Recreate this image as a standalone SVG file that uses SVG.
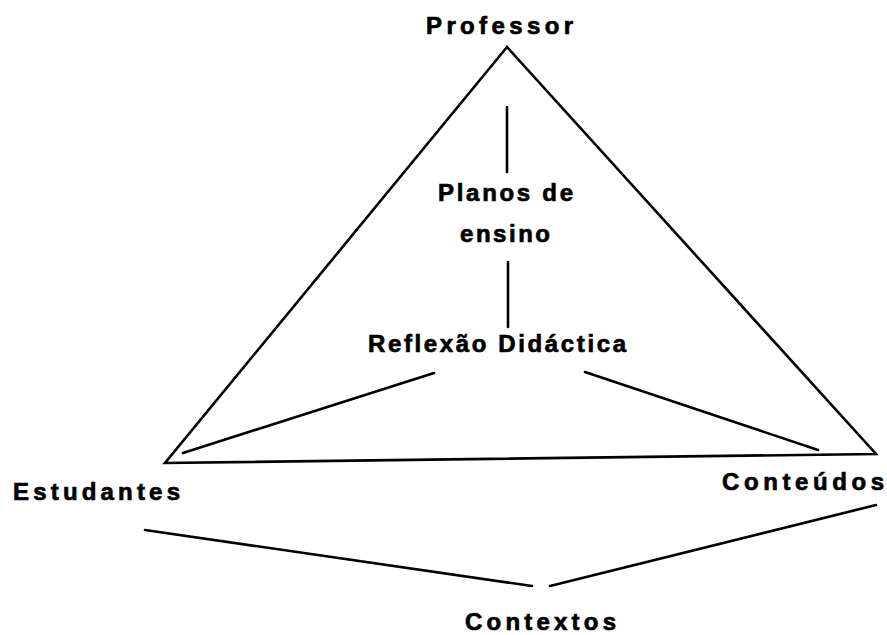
<svg xmlns="http://www.w3.org/2000/svg" width="887" height="635" viewBox="0 0 887 635">
  <style>
    .lbl { font-family: "Liberation Sans", Arial, sans-serif; font-weight: bold; font-size: 24px; fill: #000; stroke: #000; stroke-width: 0.7; }
    .ln { stroke: #000; stroke-width: 2.6; fill: none; stroke-linecap: round; stroke-linejoin: miter; }
  </style>
  <rect width="887" height="635" fill="#fff"/>

  <g id="connectors">
    <!-- main triangle -->
    <path class="ln" d="M507 47 L165 463 L876 454 Z"/>
    <!-- Professor / Planos de ensino / Reflexão Didáctica axis -->
    <line class="ln" x1="507" y1="107" x2="507" y2="172"/>
    <line class="ln" x1="508" y1="262" x2="508" y2="327"/>
    <!-- Reflexão Didáctica to the base corners -->
    <line class="ln" x1="434" y1="373" x2="183" y2="453"/>
    <line class="ln" x1="585" y1="372" x2="818" y2="450"/>
    <!-- Contextos branches -->
    <line class="ln" x1="145" y1="530" x2="532" y2="586"/>
    <line class="ln" x1="550" y1="586" x2="876" y2="505"/>
  </g>

  <g id="professor">
    <text class="lbl" x="426" y="34" textLength="147" lengthAdjust="spacing">Professor</text>
  </g>
  <g id="planos">
    <text class="lbl" x="438" y="201" textLength="135" lengthAdjust="spacing">Planos de</text>
    <text class="lbl" x="460" y="242" textLength="90" lengthAdjust="spacing">ensino</text>
  </g>
  <g id="reflexao">
    <text class="lbl" x="368" y="352" textLength="258" lengthAdjust="spacing">Reflexão Didáctica</text>
  </g>
  <g id="estudantes">
    <text class="lbl" x="13" y="500" textLength="167" lengthAdjust="spacing">Estudantes</text>
  </g>
  <g id="conteudos">
    <text class="lbl" x="722" y="490" textLength="162" lengthAdjust="spacing">Conteúdos</text>
  </g>
  <g id="contextos">
    <text class="lbl" x="465" y="630" textLength="151" lengthAdjust="spacing">Contextos</text>
  </g>
</svg>
